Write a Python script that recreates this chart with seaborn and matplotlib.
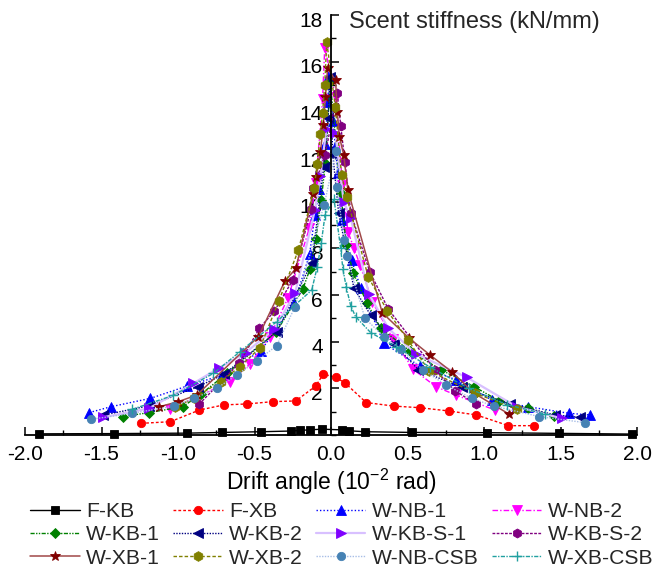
import matplotlib
matplotlib.use("Agg")
import matplotlib.pyplot as plt
import matplotlib.transforms as mtransforms
import seaborn as sns
from matplotlib.ticker import MultipleLocator, FormatStrFormatter

sns.set_theme(style="white")
plt.rcParams['font.family'] = ['Liberation Sans', 'DejaVu Sans']
plt.rcParams['mathtext.fontset'] = 'custom'
plt.rcParams['mathtext.rm'] = 'Liberation Sans'
plt.rcParams['mathtext.it'] = 'Liberation Sans:italic'
plt.rcParams['axes.unicode_minus'] = False

# ---------------- data (drift angle 10^-2 rad, secant stiffness kN/mm) ----------------
series_names = ["F-KB", "F-XB", "W-NB-1", "W-NB-2", "W-KB-1", "W-KB-2",
                "W-KB-S-1", "W-KB-S-2", "W-XB-1", "W-XB-2", "W-NB-CSB", "W-XB-CSB"]

fkb_x = [-1.91, -1.42, -0.94, -0.71, -0.46, -0.26, -0.20, -0.14, -0.06, 0.07, 0.12, 0.22, 0.53, 1.02, 1.49, 1.97]
fkb_y = [0.05, 0.06, 0.08, 0.11, 0.14, 0.17, 0.20, 0.22, 0.25, 0.22, 0.18, 0.14, 0.11, 0.10, 0.07, 0.04]

fxb_x = [-1.24, -1.05, -0.86, -0.70, -0.55, -0.38, -0.23, -0.10, -0.05, 0.03, 0.09, 0.23, 0.41, 0.58, 0.77, 0.95, 1.16, 1.33]
fxb_y = [0.50, 0.57, 1.07, 1.29, 1.33, 1.43, 1.46, 2.10, 2.61, 2.47, 2.24, 1.39, 1.24, 1.17, 1.03, 0.86, 0.40, 0.40]

wnb1_x = [-1.58, -1.44, -1.18, -0.94, -0.71, -0.46, -0.24, -0.14, -0.105, -0.077, -0.041, -0.02, -0.014,
          0.014, 0.028, 0.045, 0.07, 0.135, 0.194, 0.346, 0.58, 0.82, 1.05, 1.29, 1.555, 1.69]
wnb1_y = [0.96, 1.21, 1.57, 2.10, 2.57, 3.60, 5.64, 7.74, 9.43, 10.53, 12.47, 14.29, 15.43,
          13.47, 12.36, 11.21, 9.21, 7.50, 6.29, 3.93, 2.95, 2.36, 1.50, 1.21, 0.93, 0.86]

wnb2_x = [-1.05, -0.66, -0.53, -0.40, -0.28, -0.142, -0.10, -0.055, -0.041,
          0.03, 0.075, 0.111, 0.15, 0.19, 0.27, 0.407, 0.538, 0.686, 0.817, 1.072]
wnb2_y = [1.10, 2.29, 3.04, 4.21, 5.89, 8.86, 10.80, 14.39, 16.60,
          14.50, 10.70, 8.71, 8.00, 7.29, 5.71, 4.10, 2.81, 2.07, 1.71, 1.07]

wkb1_x = [-1.36, -1.19, -0.97, -0.85, -0.68, -0.36, -0.185, -0.138, -0.10, -0.064, -0.036, -0.005,
          0.064, 0.10, 0.146, 0.237, 0.325, 0.516, 0.72, 0.935, 1.098, 1.29, 1.458]
wkb1_y = [0.79, 0.96, 1.21, 1.75, 2.64, 4.40, 6.24, 7.10, 8.39, 10.07, 11.67, 15.15,
          10.36, 8.14, 6.93, 5.64, 4.57, 3.60, 2.79, 2.07, 1.47, 1.14, 0.81]

wkb2_x = [-1.49, -1.19, -0.87, -0.70, -0.355, -0.126, -0.047, -0.019, -0.008,
          0.012, 0.05, 0.15, 0.259, 0.412, 0.571, 0.854, 1.17, 1.464, 1.627]
wkb2_y = [0.85, 1.25, 2.07, 2.60, 4.43, 7.36, 11.50, 13.57, 15.36,
          12.00, 9.50, 6.29, 5.14, 3.90, 2.80, 2.04, 1.33, 0.86, 0.76]

wkbs1_x = [-1.49, -1.19, -0.90, -0.73, -0.558, -0.37, -0.235, -0.105, -0.07, -0.03,
           0.028, 0.083, 0.129, 0.248, 0.375, 0.556, 0.887, 1.214, 1.51]
wkbs1_y = [0.76, 1.14, 2.21, 2.88, 3.53, 4.54, 6.07, 9.64, 11.10, 13.10,
           12.93, 10.00, 9.29, 6.04, 4.57, 3.47, 2.47, 1.21, 0.71]

wkbs2_x = [-0.861, -0.60, -0.468, -0.37, -0.25, -0.13, -0.116, -0.039,
           0.041, 0.064, 0.091, 0.13, 0.253, 0.375, 0.68, 0.81, 0.948]
wkbs2_y = [1.33, 3.07, 4.57, 5.31, 6.64, 9.70, 10.57, 12.00,
           14.64, 13.24, 11.69, 9.50, 7.00, 5.39, 2.79, 1.90, 1.33]

wxb1_x = [-1.122, -0.998, -0.878, -0.475, -0.301, -0.229, -0.119, -0.097, -0.069, -0.05, -0.036, -0.022,
          0.03, 0.041, 0.055, 0.083, 0.11, 0.335, 0.512, 0.647, 0.789, 0.935, 1.165]
wxb1_y = [1.21, 1.43, 1.71, 4.21, 6.60, 7.14, 10.33, 11.07, 12.14, 13.29, 14.50, 15.71,
          15.20, 13.86, 12.79, 12.00, 10.50, 5.24, 4.14, 3.43, 2.71, 1.79, 0.89]

wxb2_x = [-1.02, -0.898, -0.721, -0.595, -0.464, -0.34, -0.213, -0.11, -0.091, -0.069, -0.055, -0.041, -0.028,
          0.028, 0.069, 0.102, 0.244, 0.368, 0.503, 0.64, 0.941, 1.214]
wxb2_y = [1.19, 1.57, 2.29, 2.93, 3.74, 5.76, 7.93, 10.57, 11.61, 12.89, 13.81, 15.00, 16.86,
          14.07, 11.14, 10.21, 6.76, 5.33, 4.07, 2.76, 1.79, 1.11]

wnbcsb_x = [-1.57, -1.30, -1.026, -0.893, -0.747, -0.616, -0.486, -0.355, -0.235, -0.045,
            0.033, 0.041, 0.083, 0.102, 0.222, 0.346, 0.455, 0.601, 0.752, 0.92, 1.065, 1.36, 1.66]
wnbcsb_y = [0.67, 0.93, 1.24, 1.57, 2.00, 2.57, 3.17, 3.83, 5.50, 9.86,
            12.19, 10.64, 8.36, 7.69, 5.00, 4.21, 3.69, 2.79, 2.14, 1.57, 1.24, 0.79, 0.53]

wxbcsb_x = [-1.30, -1.03, -0.769, -0.595, -0.355, -0.126, -0.09, -0.064, -0.039,
            0.02, 0.063, 0.078, 0.10, 0.129, 0.161, 0.259, 0.423, 0.65, 0.90, 1.15, 1.40]
wxbcsb_y = [1.10, 1.70, 2.64, 3.57, 4.86, 6.21, 7.20, 8.21, 9.43,
            10.10, 8.00, 7.10, 6.33, 5.53, 5.07, 4.39, 3.79, 2.90, 2.00, 1.30, 0.90]

x_ticks = [-2.0, -1.5, -1.0, -0.5, 0.0, 0.5, 1.0, 1.5, 2.0]
y_ticks = [2, 4, 6, 8, 10, 12, 14, 16, 18]

# ---------------- styles ----------------
data = [(fkb_x, fkb_y), (fxb_x, fxb_y), (wnb1_x, wnb1_y), (wnb2_x, wnb2_y),
        (wkb1_x, wkb1_y), (wkb2_x, wkb2_y), (wkbs1_x, wkbs1_y), (wkbs2_x, wkbs2_y),
        (wxb1_x, wxb1_y), (wxb2_x, wxb2_y), (wnbcsb_x, wnbcsb_y), (wxbcsb_x, wxbcsb_y)]

styles = [
    dict(color="black", marker="s", ls="-", mfc="black", ms=5.5, lw=1.0),
    dict(color="#FF0000", marker="o", ls=(0, (2, 1.5)), mfc="#FF0000", ms=6, lw=1.0),
    dict(color="#0000FF", marker="^", ls=(0, (1, 1.5)), mfc="#0000FF", ms=6.5, lw=1.0),
    dict(color="#FF00FF", marker="v", ls=(0, (4, 1.5, 1, 1.5)), mfc="#FF00FF", ms=6.5, lw=1.0),
    dict(color="#008000", marker="D", ls=(0, (3, 1, 1, 1, 1, 1)), mfc="#008000", ms=5.5, lw=1.0),
    dict(color="#000080", marker="<", ls=(0, (1, 1)), mfc="#000080", ms=6.5, lw=1.0),
    dict(color="#D8C0FF", marker=">", ls="-", mfc="#8000FF", ms=6.5, lw=1.6),
    dict(color="#800080", marker="h", ls=(0, (2, 1)), mfc="#800080", ms=6.5, lw=1.0),
    dict(color="#A04848", marker="*", ls="-", mfc="#800000", ms=7.5, lw=1.1),
    dict(color="#808000", marker="h", ls=(0, (2.5, 1.5)), mfc="#808000", ms=7, lw=1.0),
    dict(color="#A8BEE6", marker="o", ls=(0, (1, 1)), mfc="#4682B4", ms=6, lw=1.0),
    dict(color="#20A0A0", marker="+", ls=(0, (3, 1, 1, 1)), mfc="#20A0A0", ms=6.5, lw=1.0),
]

fig = plt.figure(figsize=(6.63, 5.76), dpi=100)
ax = fig.add_axes([25 / 663, (576 - 435) / 576, 612 / 663, 420 / 576])

for name, (xs, ys), st in zip(series_names, data, styles):
    mec = st["mfc"]
    sns.lineplot(x=xs, y=ys, ax=ax, sort=False, estimator=None, label=name,
                 color=st["color"], linestyle=st["ls"], linewidth=st["lw"],
                 marker=st["marker"], markersize=st["ms"], markerfacecolor=st["mfc"],
                 markeredgecolor=mec, markeredgewidth=1.0 if st["marker"] == "+" else 0.6,
                 clip_on=False)

ax.set_xlim(-2.0, 2.0)
ax.set_ylim(0, 18)
ax.set_xticks(x_ticks)
ax.set_yticks(y_ticks)
ax.xaxis.set_major_formatter(FormatStrFormatter("%.1f"))
ax.xaxis.set_minor_locator(MultipleLocator(0.25))
ax.yaxis.set_minor_locator(MultipleLocator(1))

for s in ["top", "right"]:
    ax.spines[s].set_visible(False)
ax.spines["left"].set_position(("data", 0))
for s in ["left", "bottom"]:
    ax.spines[s].set_color("black")
    ax.spines[s].set_linewidth(1.3)
    ax.spines[s].set_zorder(5)

ax.tick_params(axis="both", which="major", direction="in", length=6, width=1.1,
               color="black", labelsize=15, labelcolor="black")
ax.tick_params(axis="both", which="minor", direction="in", length=3.5, width=1.0, color="black")
ax.tick_params(axis="y", which="both", left=True, pad=6)
ax.tick_params(axis="x", which="both", bottom=True, pad=7)
ax.grid(False)

# y tick labels sit slightly below their ticks in the reference
shift = mtransforms.ScaledTranslation(0, -3 / 72, fig.dpi_scale_trans)
for lbl in ax.yaxis.get_majorticklabels():
    lbl.set_transform(lbl.get_transform() + shift)

ax.annotate("Scent stiffness (kN/mm)", xy=(0, 18), xytext=(13, -5),
            textcoords="offset points", ha="left", va="center", fontsize=17,
            annotation_clip=False)
ax.set_xlabel("Drift angle (10$^{-2}$ rad)", fontsize=16.5, labelpad=2, color="black")
ax.set_ylabel("")

handles, labels = ax.get_legend_handles_labels()
order = [0, 4, 8, 1, 5, 9, 2, 6, 10, 3, 7, 11]
leg = ax.legend([handles[i] for i in order], [labels[i] for i in order],
                ncol=4, loc="upper left", bbox_to_anchor=(30 / 663, 0.128),
                bbox_transform=fig.transFigure, frameon=False, fontsize=15.2,
                handlelength=2.35, handletextpad=0.3, columnspacing=0.62,
                labelspacing=0.2, borderpad=0, borderaxespad=0, numpoints=1)

fig.savefig("out.png", dpi=100)
